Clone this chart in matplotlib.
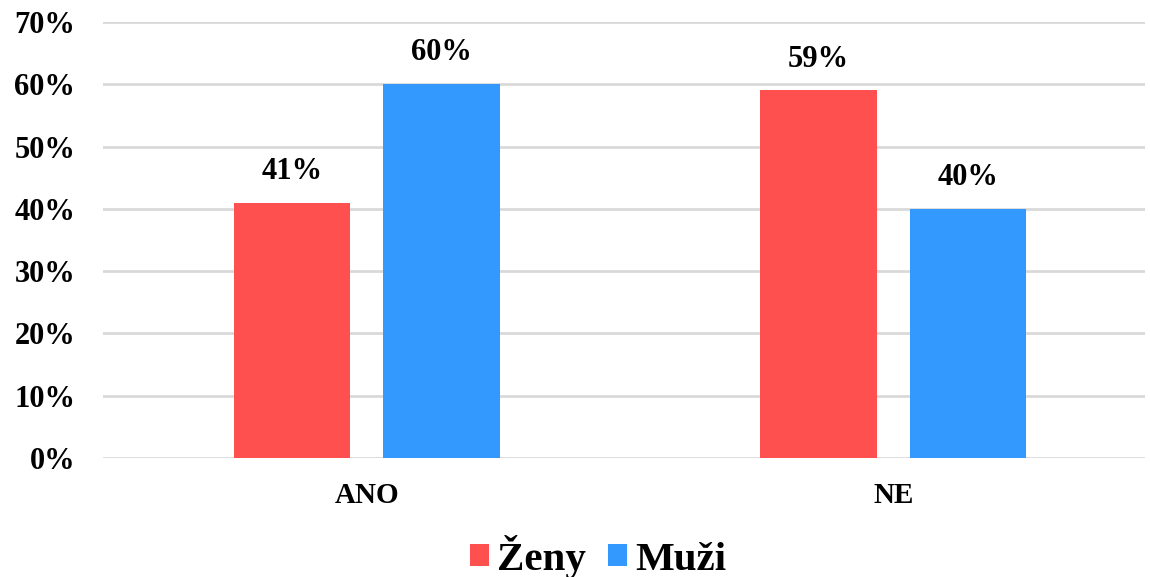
import numpy as np
import matplotlib.pyplot as plt
from matplotlib.ticker import PercentFormatter

categories = ["ANO", "NE"]
zeny = [41, 59]
muzi = [60, 40]
series_names = ["Ženy", "Muži"]

plt.rcParams['font.family'] = ['Liberation Serif', 'DejaVu Serif']
plt.rcParams['font.weight'] = 'bold'

fig = plt.figure(figsize=(11.5, 5.77), dpi=100)
ax = fig.add_axes([0.0896, 0.2063, 0.906, 0.7556])

x = np.arange(len(categories))
w = 0.222
off = 0.142

b1 = ax.bar(x - off, zeny, w, color="#FF5050", label=series_names[0], zorder=3)
b2 = ax.bar(x + off, muzi, w, color="#3399FF", label=series_names[1], zorder=3)

# popisky hodnot nad sloupci
for bars in (b1, b2):
    for r in bars:
        ax.text(r.get_x() + r.get_width() / 2, r.get_height() + 2.7,
                f"{r.get_height():.0f}%", ha="center", va="bottom",
                fontsize=22, fontweight="bold")

ax.set_xlim(-0.501, 1.478)
ax.set_ylim(0, 70)
ax.set_yticks(range(0, 71, 10))
ax.yaxis.set_major_formatter(PercentFormatter(decimals=0))
ax.grid(axis="y", color="#D9D9D9", linewidth=2, zorder=0)
ax.set_xticks(x)
ax.set_xticklabels(categories, fontsize=21, fontweight="bold")
ax.tick_params(axis="y", labelsize=22, length=0, pad=20)
ax.tick_params(axis="x", length=0, pad=17)
for lbl in ax.get_yticklabels():
    lbl.set_fontweight("bold")
for s in ax.spines.values():
    s.set_visible(False)

fig.legend(loc="center", bbox_to_anchor=(0.52, 0.035), ncol=2, frameon=False,
           handlelength=0.45, handleheight=0.45, handletextpad=0.2,
           columnspacing=0.55, prop={'weight': 'bold', 'size': 29.5})

fig.savefig("out.png", dpi=100)
